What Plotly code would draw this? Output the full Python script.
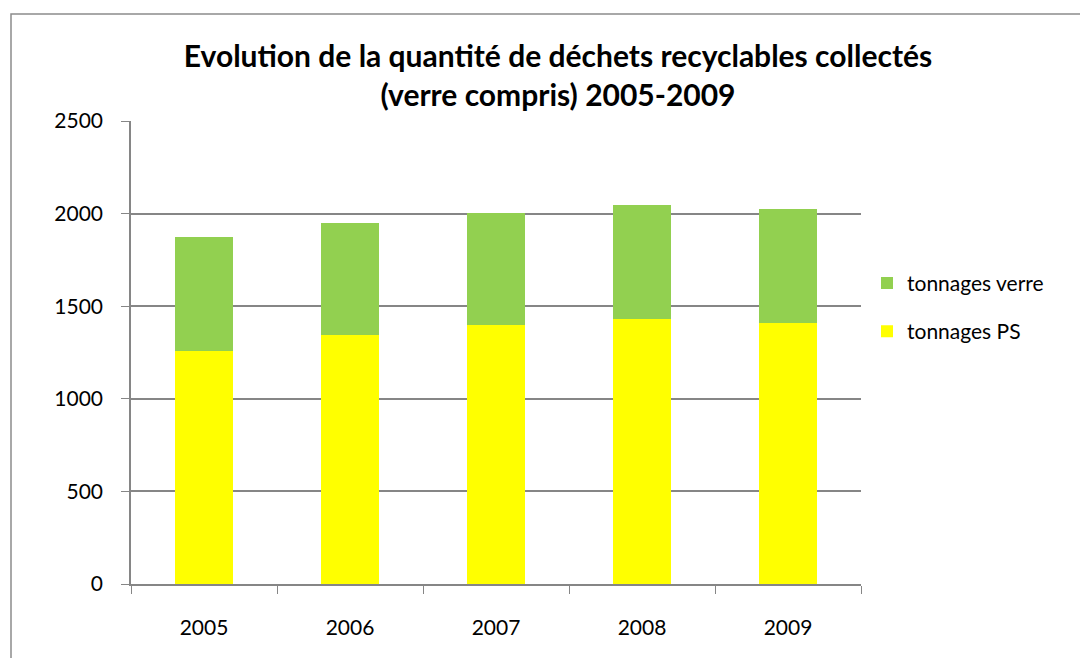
import plotly.graph_objects as go

years = ["2005", "2006", "2007", "2008", "2009"]
tonnages_ps = [1259, 1345, 1401, 1432, 1412]
tonnages_verre = [613, 605, 603, 615, 613]
y_ticks = [0, 500, 1000, 1500, 2000, 2500]

OFF = 8  # page body margin
W, H = 1088, 658
L, T = 131 - OFF, 121 - OFF
pw, ph = 730, 463.5
R = W - L - pw
B = H - T - ph

font = "Lato, Calibri, 'Open Sans', sans-serif"

fig = go.Figure()
fig.add_trace(go.Bar(x=years, y=tonnages_ps, name="tonnages PS",
                     marker=dict(color="#FFFF00", line=dict(width=0)),
                     legendgroup="ps", legendrank=2, width=0.4))
fig.add_trace(go.Bar(x=years, y=tonnages_verre, name="tonnages verre",
                     marker=dict(color="#92D050", line=dict(width=0)),
                     legendgroup="verre", legendrank=1, width=0.4))

# outer chart frame
fig.add_shape(type="rect", xref="paper", yref="paper",
              x0=(11 - OFF - L) / pw, x1=(W + 20 - L) / pw,
              y0=-(B + 30) / ph, y1=1 + (T - (14 - OFF)) / ph,
              line=dict(color="#8C8C8C", width=1.5), fillcolor="rgba(0,0,0,0)",
              layer="below")

fig.update_layout(
    width=W, height=H,
    margin=dict(l=L, r=R, t=T, b=B, autoexpand=False),
    paper_bgcolor="white", plot_bgcolor="white",
    barmode="stack",
    title=dict(text="<b>Evolution de la quantité de déchets recyclables collectés<br>(verre compris) 2005-2009</b>",
               x=(558 - OFF) / W, xanchor="center", xref="container",
               y=1 - (67 - OFF) / H, yanchor="middle", yref="container",
               font=dict(family=font, size=30, color="black")),
    font=dict(family=font, size=21, color="black"),
    xaxis=dict(type="category", tickson="boundaries", ticks="outside", ticklen=8,
               tickcolor="#868686", showline=True, linecolor="#868686", linewidth=1.5,
               showgrid=False, tickfont=dict(size=21), ticklabelstandoff=24),
    yaxis=dict(range=[0, 2500], tickvals=y_ticks, ticks="outside", ticklen=8,
               tickcolor="#868686", showline=True, linecolor="#868686", linewidth=1.5,
               showgrid=True, gridcolor="#868686", gridwidth=1.5, zeroline=False,
               tickfont=dict(size=21), ticklabelstandoff=14),
    legend=dict(x=(867 - OFF - L) / pw, xanchor="left",
                y=1 - (263 - OFF - T) / ph, yanchor="top",
                traceorder="grouped", tracegroupgap=18, itemsizing="constant",
                font=dict(size=21), bgcolor="rgba(0,0,0,0)"),
    showlegend=True,
)

fig.write_html("out.html")
